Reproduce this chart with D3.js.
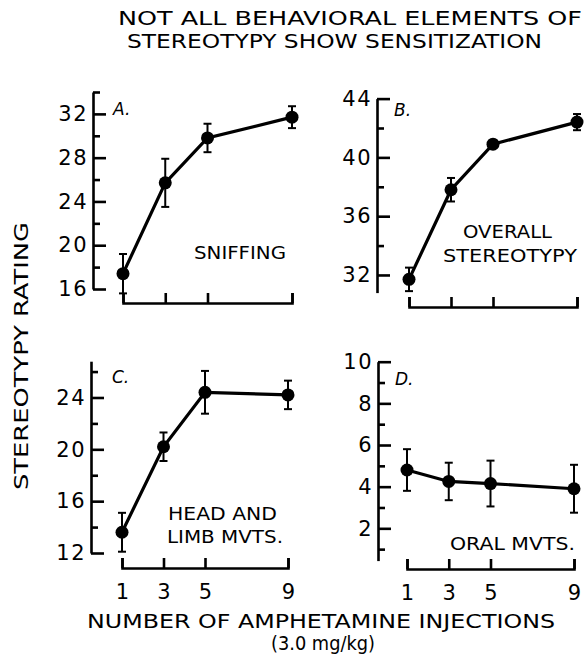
<!DOCTYPE html>
<html>
<head>
<meta charset="utf-8">
<script src="https://cdn.jsdelivr.net/npm/d3@7.9.0/dist/d3.min.js"></script>
<style>
  body { margin: 0; background: #fff; }
  svg { display: block; font-family: "DejaVu Sans", sans-serif; }
  .axis path, .axis line { stroke: #000; stroke-width: 2.6; }
  .axis text { font-family: "DejaVu Sans", sans-serif; fill: #000; }
</style>
</head>
<body>
<svg id="chart" width="585" height="666"></svg>
<script>
// data
const injections = [1, 3, 5, 9];

const sniffing = [17.4, 25.7, 29.8, 31.7];
const sniffingErr = [1.8, 2.2, 1.3, 1.0];

const overall = [31.7, 37.8, 40.9, 42.4];
const overallErr = [0.8, 0.8, 0.25, 0.55];

const headLimb = [13.6, 20.2, 24.4, 24.2];
const headLimbErr = [1.5, 1.1, 1.65, 1.1];

const oral = [4.8, 4.25, 4.15, 3.9];
const oralErr = [1.0, 0.9, 1.1, 1.15];

const panels = [
  { letter: 'A.', values: sniffing, errs: sniffingErr, label: ['SNIFFING'],
    yMajor: [16, 20, 24, 28, 32], yMinor: [18, 22, 26, 30, 34], yDomain: [16, 34] },
  { letter: 'B.', values: overall, errs: overallErr, label: ['OVERALL', 'STEREOTYPY'],
    yMajor: [32, 36, 40, 44], yMinor: [34, 38, 42], yDomain: [30.8, 44] },
  { letter: 'C.', values: headLimb, errs: headLimbErr, label: ['HEAD  AND', 'LIMB MVTS.'],
    yMajor: [12, 16, 20, 24], yMinor: [14, 18, 22, 26], yDomain: [12, 26.8] },
  { letter: 'D.', values: oral, errs: oralErr, label: ['ORAL  MVTS.'],
    yMajor: [2, 4, 6, 8, 10], yMinor: [1, 3, 5, 7, 9], yDomain: [0.45, 10] }
];

// layout of each panel in pixels
const layout = [
  { axisX: 93, yRange: [289, 92], xRange: [123, 292], xAxisY: 303, showX: false,
    letterPos: [113, 115], labelPos: [[194, 259]], labelW: [92] },
  { axisX: 377, yRange: [292.6, 98.6], xRange: [409, 577], xAxisY: 307, showX: false,
    letterPos: [394, 116], labelPos: [[463, 238], [443, 262]], labelW: [89, 134] },
  { axisX: 91, yRange: [553, 361.2], xRange: [122, 288], xAxisY: 568, showX: true,
    letterPos: [112, 383], labelPos: [[168, 520], [167, 543]], labelW: [109, 116] },
  { axisX: 378, yRange: [560.6, 361.7], xRange: [407, 574], xAxisY: 569, showX: true,
    letterPos: [395, 385], labelPos: [[450, 550]], labelW: [125] }
];

const svg = d3.select('#chart');

panels.forEach((p, i) => {
  const L = layout[i];
  const g = svg.append('g');

  const x = d3.scaleLinear().domain([1, 9]).range(L.xRange);
  const y = d3.scaleLinear().domain(p.yDomain).range(L.yRange);

  // y axis: major ticks pointing inward, labels on the left
  g.append('g')
    .attr('class', 'axis')
    .attr('transform', `translate(${L.axisX},0)`)
    .call(d3.axisLeft(y).tickValues(p.yMajor).tickSize(-13).tickSizeOuter(0).tickPadding(5))
    .call(a => a.selectAll('text').attr('font-size', 21).attr('letter-spacing', 1.5));

  // minor ticks
  g.append('g')
    .attr('class', 'axis')
    .attr('transform', `translate(${L.axisX},0)`)
    .call(d3.axisLeft(y).tickValues(p.yMinor).tickSize(-7).tickFormat(''))
    .call(a => a.select('.domain').remove());

  // bracket-like x axis
  g.append('g')
    .attr('class', 'axis')
    .attr('transform', `translate(0,${L.xAxisY})`)
    .call(d3.axisBottom(x).tickValues(injections).tickSize(-10).tickSizeOuter(-10)
      .tickPadding(16).tickFormat(L.showX ? d3.format('d') : ''))
    .call(a => a.selectAll('text').attr('font-size', 21));

  // line
  const line = d3.line().x((d, j) => x(injections[j])).y(d => y(d));
  g.append('path')
    .datum(p.values)
    .attr('d', line)
    .attr('fill', 'none')
    .attr('stroke', '#000')
    .attr('stroke-width', 3.2);

  // error bars
  const eb = g.append('g').attr('stroke', '#000').attr('stroke-width', 2);
  p.values.forEach((v, j) => {
    const cx = x(injections[j]);
    const lo = y(v - p.errs[j]), hi = y(v + p.errs[j]);
    eb.append('line').attr('x1', cx).attr('x2', cx).attr('y1', lo).attr('y2', hi);
    eb.append('line').attr('x1', cx - 4).attr('x2', cx + 4).attr('y1', lo).attr('y2', lo);
    eb.append('line').attr('x1', cx - 4).attr('x2', cx + 4).attr('y1', hi).attr('y2', hi);
  });

  g.selectAll('circle.pt')
    .data(p.values)
    .join('circle')
    .attr('class', 'pt')
    .attr('cx', (d, j) => x(injections[j]))
    .attr('cy', d => y(d))
    .attr('r', 6.5)
    .attr('fill', '#000');

  // panel letter
  g.append('text')
    .attr('x', L.letterPos[0]).attr('y', L.letterPos[1])
    .attr('font-size', 17).attr('font-style', 'italic')
    .text(p.letter);

  // panel label
  p.label.forEach((t, k) => {
    g.append('text')
      .attr('x', L.labelPos[k][0]).attr('y', L.labelPos[k][1])
      .attr('font-size', 17)
      .attr('textLength', L.labelW[k]).attr('lengthAdjust', 'spacingAndGlyphs')
      .text(t);
  });
});

// titles
const titleLines = ['NOT ALL BEHAVIORAL ELEMENTS OF', 'STEREOTYPY SHOW SENSITIZATION'];
const titlePos = [[118, 25, 464], [127, 48, 415]];
titleLines.forEach((t, k) => {
  svg.append('text')
    .attr('x', titlePos[k][0]).attr('y', titlePos[k][1])
    .attr('font-size', 20)
    .attr('textLength', titlePos[k][2]).attr('lengthAdjust', 'spacingAndGlyphs')
    .text(t);
});

svg.append('text')
  .attr('transform', 'translate(28,490) rotate(-90)')
  .attr('font-size', 20)
  .attr('textLength', 268).attr('lengthAdjust', 'spacingAndGlyphs')
  .text('STEREOTYPY RATING');

svg.append('text')
  .attr('x', 87).attr('y', 628)
  .attr('font-size', 20)
  .attr('textLength', 468).attr('lengthAdjust', 'spacingAndGlyphs')
  .text('NUMBER OF AMPHETAMINE INJECTIONS');

svg.append('text')
  .attr('x', 271).attr('y', 650)
  .attr('font-size', 20)
  .attr('textLength', 104).attr('lengthAdjust', 'spacingAndGlyphs')
  .text('(3.0 mg/kg)');
</script>
</body>
</html>
